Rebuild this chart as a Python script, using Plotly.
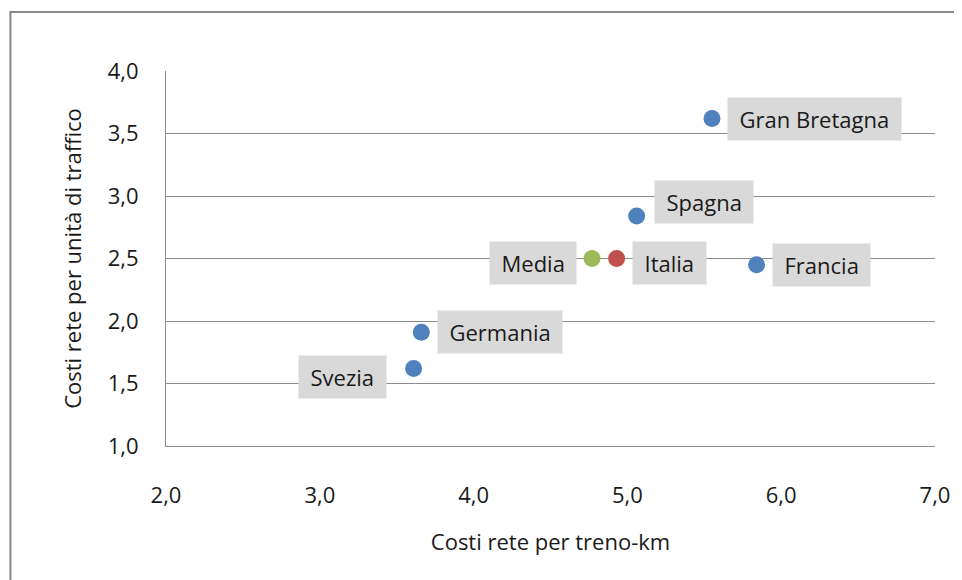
import plotly.graph_objects as go

countries = ["Gran Bretagna", "Spagna", "Media", "Italia", "Francia", "Germania", "Svezia"]
x_vals = [5.55, 5.06, 4.77, 4.93, 5.84, 3.66, 3.61]
y_vals = [3.62, 2.84, 2.50, 2.50, 2.45, 1.91, 1.62]
colors = ["#4f81bd", "#4f81bd", "#9bbb59", "#c0504d", "#4f81bd", "#4f81bd", "#4f81bd"]
x_ticks = [2.0, 3.0, 4.0, 5.0, 6.0, 7.0]
y_ticks = [1.0, 1.5, 2.0, 2.5, 3.0, 3.5, 4.0]

# label placement: (xanchor, xshift, yshift)
label_pos = {
    "Gran Bretagna": ("left", 15, 0),
    "Spagna": ("left", 17, 14),
    "Media": ("right", -15, -4),
    "Italia": ("left", 15, -4),
    "Francia": ("left", 15, 0),
    "Germania": ("left", 16, 0),
    "Svezia": ("right", -27, -8),
}

FONT = "Open Sans"
# page body has an 8px margin; figure starts at (8, 8)
OFF = 8
L, T, PW, PH = 166 - OFF, 71 - OFF, 771, 375
W, H = 962 - OFF, 580 - OFF

fig = go.Figure()
fig.add_trace(go.Scatter(
    x=x_vals, y=y_vals, mode="markers",
    marker=dict(size=17, color=colors),
    hovertext=countries, showlegend=False,
))

SP = "&#8197;"
for c, x, y in zip(countries, x_vals, y_vals):
    xa, xs, ys = label_pos[c]
    fig.add_annotation(
        x=x, y=y, text=SP + c + SP, showarrow=False, xanchor=xa, yanchor="middle",
        xshift=xs, yshift=ys, bgcolor="#d9d9d9", borderpad=6,
        font=dict(family=FONT, size=22, color="#1a1a1a"),
    )

# outer chart border (page coords -> paper coords)
def px(xp):
    return (xp - 166) / PW

def py(yp):
    return (446 - yp) / PH

fig.add_shape(type="rect", xref="paper", yref="paper",
              x0=px(10), x1=px(990), y0=py(620), y1=py(12),
              line=dict(color="#888888", width=2), layer="below")

fig.update_layout(
    width=W, height=H,
    margin=dict(l=L, r=W - L - PW, t=T, b=H - T - PH),
    paper_bgcolor="white", plot_bgcolor="white",
    separators=",.",
    font=dict(family=FONT, size=22, color="#1a1a1a"),
    xaxis=dict(
        range=[2, 7], tickvals=x_ticks, tickformat=".1f",
        showgrid=False, zeroline=False,
        showline=True, linecolor="#8c8c8c", linewidth=1,
        ticks="", ticklabelstandoff=30,
        title=dict(text="Costi rete per treno-km", standoff=26, font=dict(size=22)),
    ),
    yaxis=dict(
        range=[1, 4], tickvals=y_ticks, tickformat=".1f",
        showgrid=True, gridcolor="#8c8c8c", gridwidth=1, zeroline=False,
        showline=True, linecolor="#8c8c8c", linewidth=1,
        ticks="", ticklabelstandoff=22,
        title=dict(text="Costi rete per unità di traffico", standoff=20, font=dict(size=22)),
    ),
)

fig.write_html("out.html")
